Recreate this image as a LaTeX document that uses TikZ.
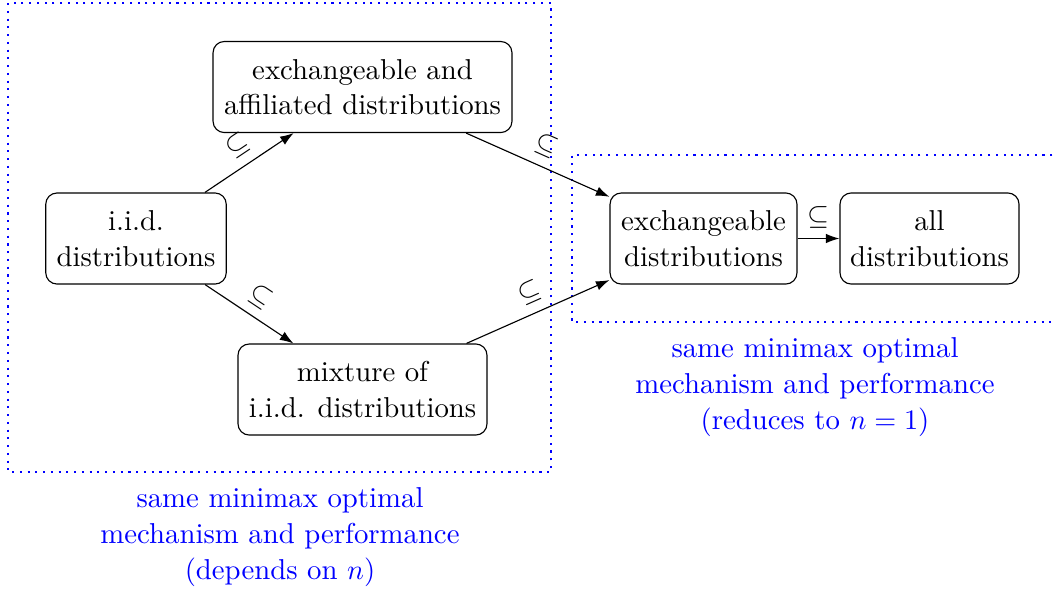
\documentclass[tikz,border=0pt]{standalone}
\usetikzlibrary{arrows.meta}
\begin{document}
\begin{tikzpicture}[x=0.3546pt,y=-0.3546pt,
  box/.style={draw, line width=0.4pt, rounded corners=4pt, align=center, minimum height=32.3pt, inner sep=2pt, font=\fontsize{10.2}{12.6}\selectfont},
  arr/.style={-{Latex[length=4.8pt,width=3.4pt]}, line width=0.4pt},
  lbl/.style={sloped, above, font=\fontsize{10.4}{12}\selectfont},
  region/.style={blue, dotted, line width=0.75pt},
  note/.style={text=blue, align=center, font=\fontsize{10.2}{12.7}\selectfont}]
\useasboundingbox (0,0) rectangle (1055,592);
% dotted regions
\draw[region] (8,3) rectangle (551,472);
\draw[region] (1060,155) -- (572,155) -- (572,322) -- (1060,322);
% nodes
\node[box, minimum width=64pt]   (iid)  at (136,238.5) {i.i.d.\\distributions};
\node[box, minimum width=106pt]  (aff)  at (362.5,87)  {exchangeable and\\affiliated distributions};
\node[box, minimum width=88.3pt] (mix)  at (362.5,389.5) {mixture of\\i.i.d. distributions};
\node[box, minimum width=66.3pt] (exch) at (703.5,238.5) {exchangeable\\distributions};
\node[box, minimum width=63.5pt] (all)  at (929.5,238.5) {all\\distributions};
% connectors
\draw[arr] (iid) -- node[lbl] {$\subseteq$} (aff);
\draw[arr] (iid) -- node[lbl] {$\subseteq$} (mix);
\draw[arr] (aff) -- node[lbl] {$\subseteq$} (exch);
\draw[arr] (mix) -- node[lbl] {$\subseteq$} (exch);
\draw[arr] (exch) -- node[lbl] {$\subseteq$} (all);
% notes
\node[note] (n1) at (280,537) {same minimax optimal\\mechanism and performance\\(depends on $n$)};
\node[note] (n2) at (815,387) {same minimax optimal\\mechanism and performance\\(reduces to $n=1$)};
\end{tikzpicture}
\end{document}
